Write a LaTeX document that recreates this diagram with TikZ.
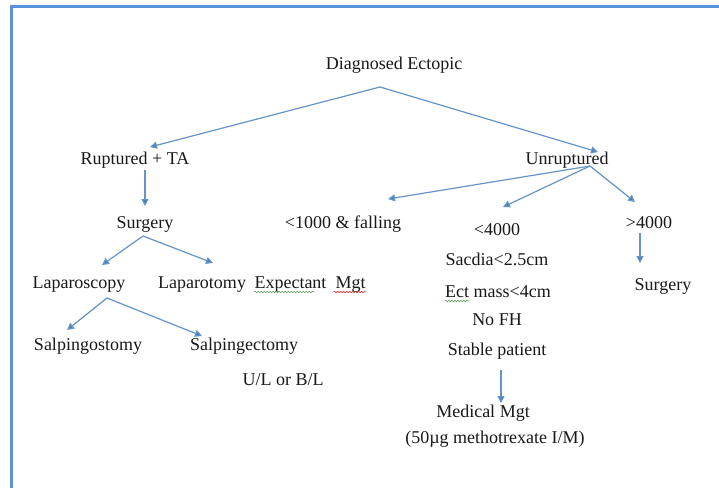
\documentclass[tikz,border=0pt]{standalone}
\usepackage{fontspec}
\setmainfont{Liberation Serif}
\usetikzlibrary{arrows.meta,calc,decorations.pathmorphing}
\definecolor{framec}{RGB}{90,145,220}
\definecolor{arrc}{RGB}{100,148,200}
\definecolor{arrd}{RGB}{75,125,185}
\definecolor{spellg}{RGB}{90,160,90}
\definecolor{spellr}{RGB}{220,60,60}
\tikzset{
  lbl/.style={anchor=base,inner sep=0pt,font=\fontsize{18}{20}\selectfont,text=black!90},
  conn/.style={draw=arrc,line width=1.2pt,-{Triangle[length=7pt,width=7pt,fill=arrd]}},
  squig/.style={line width=0.6pt,decorate,decoration={snake,amplitude=0.8pt,segment length=3pt}}
}
\begin{document}
\begin{tikzpicture}[x=1pt,y=-1pt]
\useasboundingbox (0,0) rectangle (719,488);
\fill[white] (0,0) rectangle (719,488);
\draw[framec,line width=3pt] (11,488) -- (11,6) -- (719,6);

\node[lbl] (diag) at (394,69) {Diagnosed Ectopic};
\node[lbl] (rupt) at (135,164) {Ruptured + TA};
\node[lbl] (unrupt) at (567,164) {Unruptured};
\node[lbl] (surgL) at (145,228) {Surgery};
\node[lbl] (lt1000) at (343,228) {<1000 \& falling};
\node[lbl] (lt4000) at (497,235) {<4000};
\node[lbl] (gt4000) at (649,228) {>4000};
\node[lbl] (sacdia) at (497,265) {Sacdia<2.5cm};
\node[lbl] (ectmass) at (498,297) {Ect mass<4cm};
\node[lbl] (nofh) at (497,325) {No FH};
\node[lbl] (stable) at (497,355) {Stable patient};
\node[lbl] (lapscopy) at (79,288) {Laparoscopy};
\node[lbl] (laptomy) at (202,288) {Laparotomy};
\node[lbl] (expect) at (310,288) {Expectant\ \ Mgt};
\node[lbl] (surgR) at (663,290) {Surgery};
\node[lbl] (salpo) at (88,350) {Salpingostomy};
\node[lbl] (salpe) at (244,350) {Salpingectomy};
\node[lbl] (ulbl) at (283,385) {U/L or B/L};
\node[lbl] (medical) at (483,417) {Medical Mgt};
\node[lbl] (mtx) at (495,443) {(50µg methotrexate I/M)};

% spell-check squiggles
\draw[spellg,squig] ($(expect.base west)+(0,4)$) -- ($(expect.base west)+(60,4)$);
\draw[spellr,squig] ($(expect.base east)+(-32,4)$) -- ($(expect.base east)+(0,4)$);
\draw[spellg,squig] ($(ectmass.base west)+(0,4)$) -- ($(ectmass.base west)+(24,4)$);

% connectors
\draw[conn] ($(diag.base)+(-14,18)$) -- ($(rupt.base)+(15,-17)$);
\draw[conn] ($(diag.base)+(-14,18)$) -- ($(unrupt.base)+(31,-12)$);
\draw[conn] ($(rupt.base)+(10,6)$) -- ($(surgL.base)+(0,-22)$);
\draw[conn] ($(surgL.base)+(-2,8)$) -- ($(lapscopy.base)+(23,-23)$);
\draw[conn] ($(surgL.base)+(-2,8)$) -- ($(laptomy.base)+(11,-25)$);
\draw[conn] ($(lapscopy.base)+(28,10)$) -- ($(salpo.base)+(-21,-20)$);
\draw[conn] ($(lapscopy.base)+(28,10)$) -- ($(salpe.base)+(-42,-14)$);
\draw[conn] ($(unrupt.base)+(23,2)$) -- ($(lt1000.base)+(45,-29)$);
\draw[conn] ($(unrupt.base)+(23,2)$) -- ($(lt4000.base)+(6,-28)$);
\draw[conn] ($(unrupt.base)+(23,2)$) -- ($(gt4000.base)+(-14,-26)$);
\draw[conn] ($(gt4000.base)+(-9,5)$) -- ($(surgR.base)+(-23,-27)$);
\draw[conn] ($(stable.base)+(4,15)$) -- ($(medical.base)+(18,-14)$);
\end{tikzpicture}
\end{document}
